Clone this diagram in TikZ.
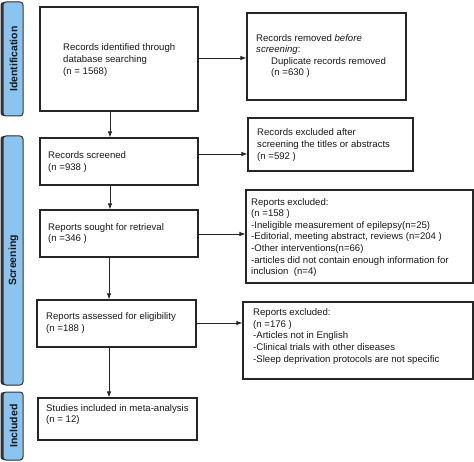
\documentclass[tikz,border=0pt]{standalone}
\usepackage{fontspec}
\setmainfont{Liberation Sans}
\usetikzlibrary{arrows.meta,calc}
\definecolor{barblue}{RGB}{140,196,240}
\tikzset{
  box/.style={draw=black!85, line width=1.1pt, fill=white},
  txt/.style={anchor=west, align=left, inner sep=0pt, font=\fontsize{9.6}{11.6}\selectfont, text=black!90},
  arr/.style={draw=black!85, line width=0.9pt, -{Latex[length=6pt,width=4.5pt]}},
  barshadow/.style={fill=black!80, rounded corners=3pt},
  bar/.style={draw=black!80, line width=1pt, fill=barblue, rounded corners=3pt},
  barlbl/.style={rotate=90, font=\fontsize{10.5}{12}\selectfont\bfseries, text=black!90}
}
\begin{document}
\begin{tikzpicture}[x=1pt,y=-1pt]
\useasboundingbox (0,0) rectangle (474,462);
% side bars
\foreach \ya/\yb/\lbl/\nm in {2/116/Identification/bi, 136/385/Screening/bs, 392/460/Included/bn}{
  \path[barshadow] (0.5,\ya) rectangle (21,\yb);
  \path[bar] (3,\ya) rectangle (23,\yb);
  \node[barlbl] (\nm) at (13.5,{(\ya+\yb)/2}) {\lbl};
}
% boxes
\node[box, minimum width=158pt, minimum height=104pt, inner sep=0pt] (b1) at (119,59) {};
\node[box, minimum width=159pt, minimum height=87pt, inner sep=0pt] (b2) at (326.5,56.5) {};
\node[box, minimum width=158pt, minimum height=47pt, inner sep=0pt] (b3) at (119,161.5) {};
\node[box, minimum width=165pt, minimum height=53pt, inner sep=0pt] (b4) at (330.5,144.5) {};
\node[box, minimum width=158pt, minimum height=47pt, inner sep=0pt] (b5) at (119,233.5) {};
\node[box, minimum width=227pt, minimum height=93pt, inner sep=0pt] (b6) at (359.5,236.5) {};
\node[box, minimum width=159pt, minimum height=47pt, inner sep=0pt] (b7) at (116.5,323.5) {};
\node[box, minimum width=230pt, minimum height=77pt, inner sep=0pt] (b8) at (358,340.5) {};
\node[box, minimum width=159pt, minimum height=42pt, inner sep=0pt] (b9) at (117.5,419) {};
% texts
\node[txt] (t1) at (63,60) {Records identified through\\database searching\\(n = 1568)};
\node[txt] (t2) at (256,56) {Records removed \textit{before}\\\textit{screening}:\\\hspace*{15pt}Duplicate records removed\\\hspace*{15pt}(n =630 )};
\node[txt] (t3) at (48,162) {Records screened\\(n =938 )};
\node[txt] (t4) at (257,145) {Records excluded after\\screening the titles or abstracts\\(n =592 )};
\node[txt] (t5) at (48,233.5) {Reports sought for retrieval\\(n =346 )};
\node[txt] (t6) at (251,237.5) {Reports excluded:\\(n =158 )\\-Ineligible measurement of epilepsy(n=25)\\-Editorial, meeting abstract, reviews (n=204 )\\-Other interventions(n=66)\\-articles did not contain enough information for\\inclusion\ \ (n=4)};
\node[txt] (t7) at (46,323) {Reports assessed for eligibility\\(n =188 )};
\node[txt] (t8) at (253,336.5) {Reports excluded:\\(n =176 )\\-Articles not in English\\-Clinical trials with other diseases\\-Sleep deprivation protocols are not specific};
\node[txt] (t9) at (46,414.5) {Studies included in meta-analysis\\(n = 12)};
% connector guides
\coordinate (v1) at (110,0);
\coordinate (v2) at (109,0);
\coordinate (h1) at (0,58);
\coordinate (h2) at (0,154);
\coordinate (h3) at (0,234);
\coordinate (h4) at (0,323);
% connectors
\draw[arr] (b1.south -| v1) -- (b3.north -| v1);
\draw[arr] (b3.south -| v1) -- (b5.north -| v1);
\draw[arr] (b5.south -| v2) -- (b7.north -| v2);
\draw[arr] (b7.south -| v2) -- (b9.north -| v2);
\draw[arr] (b1.east |- h1) -- (b2.west |- h1);
\draw[arr] (b3.east |- h2) -- (b4.west |- h2);
\draw[arr] (b5.east |- h3) -- (b6.west |- h3);
\draw[arr] (b7.east |- h4) -- (b8.west |- h4);
\end{tikzpicture}
\end{document}
